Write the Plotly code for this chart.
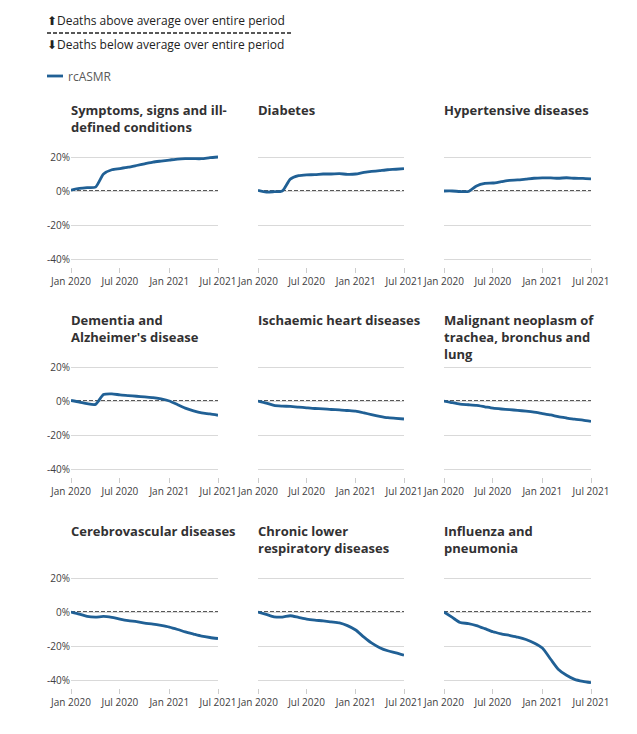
import plotly.graph_objects as go

# ---------------- data ----------------
dates = ["2020-01-01", "2020-02-01", "2020-03-01", "2020-04-01", "2020-05-01",
         "2020-06-01", "2020-07-01", "2020-08-01", "2020-09-01", "2020-10-01",
         "2020-11-01", "2020-12-01", "2021-01-01", "2021-02-01", "2021-03-01",
         "2021-04-01", "2021-05-01", "2021-06-01", "2021-07-01"]

titles = ["Symptoms, signs and ill-<br>defined conditions",
          "Diabetes",
          "Hypertensive diseases",
          "Dementia and<br>Alzheimer's disease",
          "Ischaemic heart diseases",
          "Malignant neoplasm of<br>trachea, bronchus and<br>lung",
          "Cerebrovascular diseases",
          "Chronic lower<br>respiratory diseases",
          "Influenza and<br>pneumonia"]

symptoms = [0.5, 1.5, 2.0, 2.3, 10.0, 12.5, 13.2, 14.0, 15.0, 16.0, 17.0, 17.6, 18.2, 18.8, 19.0, 19.0, 19.0, 19.6, 20.0]
diabetes = [0.4, -0.6, -0.4, 0.0, 7.0, 9.0, 9.5, 9.6, 10.0, 10.0, 10.2, 9.8, 10.0, 11.0, 11.5, 12.0, 12.5, 12.8, 13.2]
hypertensive = [0.0, 0.0, -0.3, -0.3, 3.0, 4.5, 4.7, 5.5, 6.3, 6.5, 7.0, 7.5, 7.7, 7.7, 7.5, 7.8, 7.5, 7.4, 7.1]
dementia = [0.3, -0.6, -1.6, -2.0, 3.8, 4.2, 3.6, 3.2, 2.8, 2.4, 2.0, 1.2, 0.0, -2.2, -4.2, -5.8, -7.0, -7.6, -8.4]
ischaemic = [0.0, -1.2, -2.6, -3.0, -3.2, -3.6, -4.0, -4.4, -4.6, -5.0, -5.2, -5.6, -6.0, -7.0, -8.0, -9.0, -9.8, -10.2, -10.6]
malignant = [0.0, -1.0, -1.8, -2.2, -2.6, -3.4, -4.2, -4.7, -5.1, -5.5, -6.0, -6.6, -7.4, -8.2, -9.2, -10.0, -10.7, -11.2, -12.0]
cerebro = [0.0, -1.2, -2.6, -3.0, -2.6, -3.2, -4.2, -5.1, -5.7, -6.5, -7.1, -7.9, -8.9, -10.3, -11.7, -13.0, -14.2, -15.0, -15.6]
chronic = [0.0, -1.4, -2.8, -3.0, -2.2, -3.2, -4.2, -4.8, -5.2, -5.8, -6.4, -8.0, -10.6, -14.8, -18.2, -21.0, -22.8, -24.0, -25.4]
influenza = [0.0, -3.2, -6.2, -6.8, -8.0, -9.8, -11.6, -12.8, -13.8, -14.8, -16.2, -18.2, -21.2, -27.8, -33.6, -37.2, -39.6, -40.8, -41.6]

series = [symptoms, diabetes, hypertensive, dementia, ischaemic, malignant, cerebro, chronic, influenza]

x_tickvals = ["2020-01-01", "2020-07-01", "2021-01-01", "2021-07-01"]
x_ticktext = ["Jan 2020", "Jul 2020", "Jan 2021", "Jul 2021"]
y_tickvals = [20, 0, -20, -40]
y_ticktext = ["20%", "0%", "-20%", "-40%"]

legend_above = "⬆Deaths above average over entire period"
legend_below = "⬇Deaths below average over entire period"
series_name = "rcASMR"

# ---------------- layout ----------------
W, H = 637, 734
OFF = 8  # page body margin
FONT = "Open Sans, Noto Sans, sans-serif"
LINE_COLOR = "#206095"
TEXT_COLOR = "#414042"

col_px = [(71, 218), (258, 404), (444, 591)]
row_px = [(153.6, 267), (363.6, 477), (574.6, 688)]   # top, bottom in pixels
title_top_px = [99, 309, 520]
Y_RANGE = [-44.7, 22]

def fx(px):
    return (px - OFF) / W

def fy(py):
    return 1 - (py - OFF) / H

fig = go.Figure()
layout = dict(
    width=W, height=H,
    margin=dict(l=0, r=0, t=0, b=0, pad=0, autoexpand=False),
    paper_bgcolor="white", plot_bgcolor="white",
    showlegend=False,
    font=dict(family=FONT, size=10, color=TEXT_COLOR),
)
annotations = []
shapes = []

for i, (vals, title) in enumerate(zip(series, titles)):
    r, c = divmod(i, 3)
    n = i + 1
    xa = "xaxis" if n == 1 else f"xaxis{n}"
    ya = "yaxis" if n == 1 else f"yaxis{n}"
    xref = "x" if n == 1 else f"x{n}"
    yref = "y" if n == 1 else f"y{n}"

    layout[xa] = dict(
        domain=[fx(col_px[c][0]), fx(col_px[c][1])],
        anchor=yref, type="date",
        range=[dates[0], dates[-1]],
        tickmode="array", tickvals=x_tickvals, ticktext=x_ticktext,
        ticks="outside", ticklen=5, tickcolor="#cccccc", tickwidth=1,
        showgrid=False, zeroline=False, showline=False,
        tickfont=dict(family=FONT, size=10, color=TEXT_COLOR),
        fixedrange=True, automargin=False,
    )
    layout[ya] = dict(
        domain=[fy(row_px[r][1]), fy(row_px[r][0])],
        anchor=xref, range=Y_RANGE,
        tickmode="array", tickvals=y_tickvals, ticktext=y_ticktext,
        showticklabels=(c == 0),
        showgrid=True, gridcolor="#d9d9d9", gridwidth=1,
        zeroline=False, showline=False, ticks="",
        tickfont=dict(family=FONT, size=10, color=TEXT_COLOR),
        fixedrange=True, automargin=False,
    )

    fig.add_trace(go.Scatter(
        x=dates, y=vals, mode="lines", name=series_name,
        line=dict(color=LINE_COLOR, width=2.8, shape="spline", smoothing=0.6),
        xaxis=xref, yaxis=yref, hoverinfo="skip",
    ))

    shapes.append(dict(
        type="line", xref=xref, yref=yref,
        x0=dates[0], x1=dates[-1], y0=0, y1=0,
        line=dict(color="#222222", width=1.6, dash="4px,2px"),
        layer="below",
    ))

    annotations.append(dict(
        text=f"<b>{title}</b>", xref="paper", yref="paper",
        x=fx(col_px[c][0] - 2), y=fy(title_top_px[r]),
        xanchor="left", yanchor="top", align="left", showarrow=False,
        font=dict(family=FONT, size=13, color="#323132"),
    ))

# top key
annotations.append(dict(
    text=legend_above, xref="paper", yref="paper",
    x=fx(45), y=fy(21), xanchor="left", yanchor="middle", showarrow=False,
    font=dict(family=FONT, size=12, color="#222222"),
))
annotations.append(dict(
    text=legend_below, xref="paper", yref="paper",
    x=fx(45), y=fy(44), xanchor="left", yanchor="middle", showarrow=False,
    font=dict(family=FONT, size=12, color="#222222"),
))
shapes.append(dict(
    type="line", xref="paper", yref="paper",
    x0=fx(47), x1=fx(291), y0=fy(33), y1=fy(33),
    line=dict(color="#222222", width=1.6, dash="4px,2px"),
))
shapes.append(dict(
    type="line", xref="paper", yref="paper",
    x0=fx(47), x1=fx(63), y0=fy(76), y1=fy(76),
    line=dict(color=LINE_COLOR, width=2.8),
))
annotations.append(dict(
    text=series_name, xref="paper", yref="paper",
    x=fx(66), y=fy(76), xanchor="left", yanchor="middle", showarrow=False,
    font=dict(family=FONT, size=12, color="#595959"),
))

layout["annotations"] = annotations
layout["shapes"] = shapes
fig.update_layout(**layout)

fig.write_html("out.html", config={"displayModeBar": False})
